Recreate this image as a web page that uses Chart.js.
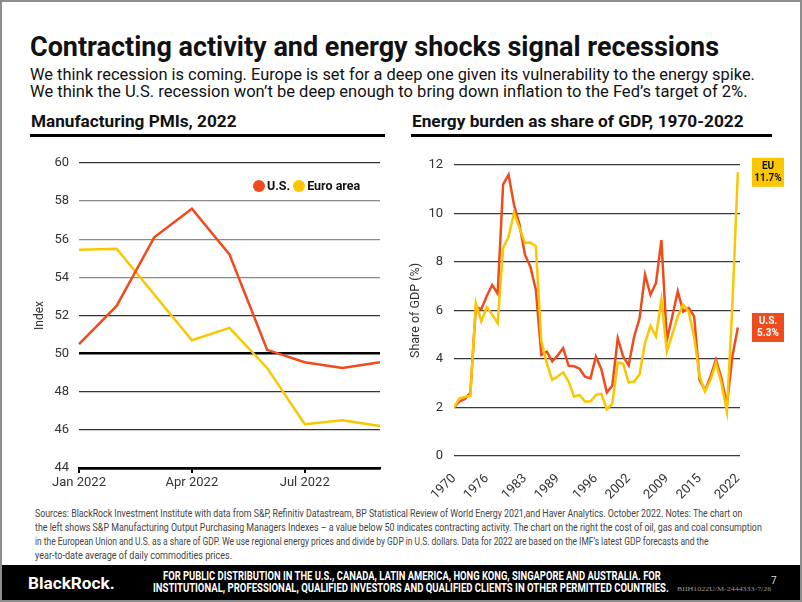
<!DOCTYPE html>
<html>
<head>
<meta charset="utf-8">
<script src="https://cdn.jsdelivr.net/npm/chart.js@4.4.1/dist/chart.umd.min.js"></script>
<style>
  html, body { margin: 0; padding: 0; background: #fff; }
  #page { position: relative; width: 802px; height: 602px; overflow: hidden; font-family: Roboto, 'Liberation Sans', sans-serif; color: #111; }
  #frame { position: absolute; left: 0; top: 0; width: 802px; height: 602px; box-sizing: border-box; border: 2px solid #8d8d8d; z-index: 5; pointer-events: none; }
  .fit { position: absolute; white-space: nowrap; line-height: 1; transform-origin: 0 50%; }
  .rule { position: absolute; height: 3px; background: #000; }
  canvas { position: absolute; }
  #pmiLegend { position: absolute; left: 253px; top: 178px; font: bold 12.5px Roboto, sans-serif; white-space: nowrap; }
  #pmiLegend .dot { display: inline-block; width: 12px; height: 12px; border-radius: 50%; vertical-align: -2px; margin-right: 2px; }
  #pmiLegend .item { margin-right: 3px; }
  #footer { position: absolute; left: 0; top: 565px; width: 802px; height: 37px; background: #000; }
</style>
</head>
<body>
<div id="page">
  <div class="fit" id="title" style="left:30px;top:34px;font-size:27px;font-weight:bold;">Contracting activity and energy shocks signal recessions</div>
  <div class="fit" id="sub1" style="left:30px;top:66.5px;font-size:16.5px;">We think recession is coming. Europe is set for a deep one given its vulnerability to the energy spike.</div>
  <div class="fit" id="sub2" style="left:30px;top:84px;font-size:16.5px;">We think the U.S. recession won’t be deep enough to bring down inflation to the Fed’s target of 2%.</div>

  <div class="fit" id="head1" style="left:31px;top:113.5px;font-size:16px;font-weight:bold;">Manufacturing PMIs, 2022</div>
  <div class="fit" id="head2" style="left:412px;top:113.5px;font-size:16px;font-weight:bold;">Energy burden as share of GDP, 1970-2022</div>
  <div class="rule" style="left:30px;top:134px;width:355px;"></div>
  <div class="rule" style="left:411px;top:134px;width:361px;"></div>

  <canvas id="pmiChart" width="380" height="360" style="left:20px;top:140px;"></canvas>
  <div id="pmiLegend"></div>
  <canvas id="energyChart" width="400" height="360" style="left:400px;top:140px;"></canvas>

  <div class="fit" id="src1" style="left:35px;top:507.5px;font-size:11px;color:#444;">Sources: BlackRock Investment Institute with data from S&amp;P, Refinitiv Datastream, BP Statistical Review of World Energy 2021,and Haver Analytics. October 2022. Notes: The chart on</div>
  <div class="fit" id="src2" style="left:35px;top:521.5px;font-size:11px;color:#444;">the left shows S&amp;P Manufacturing Output Purchasing Managers Indexes – a value below 50 indicates contracting activity. The chart on the right the cost of oil, gas and coal consumption</div>
  <div class="fit" id="src3" style="left:35px;top:535.5px;font-size:11px;color:#444;">in the European Union and U.S. as a share of GDP. We use regional energy prices and divide by GDP in U.S. dollars. Data for 2022 are based on the IMF’s latest GDP forecasts and the</div>
  <div class="fit" id="src4" style="left:35px;top:549.5px;font-size:11px;color:#444;">year-to-date average of daily commodities prices.</div>

  <div id="footer"></div>
  <div class="fit" id="brand" style="left:28px;top:575.5px;font-size:16px;font-weight:bold;color:#fff;">BlackRock.</div>
  <div class="fit" id="foot1" style="left:163px;top:569.5px;font-size:12.5px;font-weight:bold;color:#fff;">FOR PUBLIC DISTRIBUTION IN THE U.S., CANADA, LATIN AMERICA, HONG KONG, SINGAPORE AND AUSTRALIA. FOR</div>
  <div class="fit" id="foot2" style="left:153px;top:582px;font-size:12.5px;font-weight:bold;color:#fff;">INSTITUTIONAL,  PROFESSIONAL, QUALIFIED INVESTORS AND QUALIFIED CLIENTS IN OTHER PERMITTED COUNTRIES.</div>
  <div class="fit" id="pageNo" style="left:771px;top:576px;font-size:10px;color:#ddd;">7</div>
  <div class="fit" id="code" style="left:677px;top:586px;font-size:7px;color:#999;font-family:'Liberation Serif',serif;">BIIH1022U/M-2444333-7/26</div>
  <div id="frame"></div>
</div>

<script>
// Manufacturing PMIs, 2022 (left chart)
const pmiMonths = ['Jan 2022', 'Feb 2022', 'Mar 2022', 'Apr 2022', 'May 2022', 'Jun 2022', 'Jul 2022', 'Aug 2022', 'Sep 2022'];
const pmiTickMonths = ['Jan 2022', 'Apr 2022', 'Jul 2022'];
const pmiUS = [50.5, 52.5, 56.1, 57.6, 55.2, 50.2, 49.55, 49.25, 49.55];
const pmiEuro = [55.45, 55.5, 53.1, 50.7, 51.35, 49.25, 46.3, 46.5, 46.2];
const pmiSeriesNames = ['U.S.', 'Euro area'];

// Energy burden as share of GDP, 1970-2022 (right chart)
const energyYears = [
  1970, 1971, 1972, 1973, 1974, 1975, 1976, 1977, 1978, 1979,
  1980, 1981, 1982, 1983, 1984, 1985, 1986, 1987, 1988, 1989,
  1990, 1991, 1992, 1993, 1994, 1995, 1996, 1997, 1998, 1999,
  2000, 2001, 2002, 2003, 2004, 2005, 2006, 2007, 2008, 2009,
  2010, 2011, 2012, 2013, 2014, 2015, 2016, 2017, 2018, 2019,
  2020, 2021, 2022
];
const energyUS = [
  2.0, 2.25, 2.35, 2.6, 6.15, 6.05, 6.6, 7.05, 6.7, 11.2,
  11.6, 10.35, 9.55, 8.3, 7.8, 6.85, 4.17, 4.3, 3.9, 4.15,
  4.45, 3.72, 3.7, 3.6, 3.27, 3.2, 4.1, 3.58, 2.62, 2.9,
  4.86, 4.1, 3.74, 4.92, 5.68, 7.48, 6.65, 7.13, 8.9, 4.79,
  5.76, 6.79, 5.96, 6.1, 5.76, 3.14, 2.7, 3.28, 3.97, 3.2,
  2.1, 4.1, 5.3
];
const energyEU = [
  2.0, 2.38, 2.43, 2.48, 6.31, 5.55, 6.13, 5.83, 5.48, 8.58,
  9.04, 10.03, 9.41, 8.79, 8.8, 8.65, 4.73, 3.83, 3.14, 3.28,
  3.45, 3.07, 2.45, 2.52, 2.25, 2.25, 2.52, 2.56, 1.93, 2.15,
  3.86, 3.8, 3.03, 3.07, 3.37, 4.66, 5.37, 4.93, 6.45, 4.31,
  5.0, 5.76, 6.24, 5.96, 4.9, 3.28, 2.66, 3.14, 3.83, 3.0,
  1.83, 6.2, 11.7
];
const energyTickYears = [1970, 1976, 1983, 1989, 1996, 2002, 2009, 2015, 2022];
const energySeriesNames = ['EU', 'U.S.'];

const RED = '#F04B1C';
const YELLOW = '#FAC600';
const tickFont = { family: 'Roboto', size: 13 };

// legend for the PMI chart
document.getElementById('pmiLegend').innerHTML = pmiSeriesNames
  .map((name, i) =>
    '<span class="item"><span class="dot" style="background:' + (i === 0 ? RED : YELLOW) + '"></span>' + name + '</span>')
  .join('');

new Chart(document.getElementById('pmiChart'), {
  type: 'line',
  data: {
    labels: pmiMonths,
    datasets: [
      { label: pmiSeriesNames[0], data: pmiUS, borderColor: RED, borderWidth: 2.5, pointRadius: 0, tension: 0 },
      { label: pmiSeriesNames[1], data: pmiEuro, borderColor: YELLOW, borderWidth: 2.5, pointRadius: 0, tension: 0 },
    ],
  },
  options: {
    responsive: false,
    animation: false,
    layout: { padding: { top: 23, right: 20, left: 0, bottom: 0 } },
    plugins: { legend: { display: false }, tooltip: { enabled: false } },
    scales: {
      x: {
        offset: false,
        grid: {
          display: true,
          drawOnChartArea: false,
          drawTicks: true,
          tickLength: 5,
          lineWidth: 2,
          color: (c) => (pmiTickMonths.includes(pmiMonths[c.index]) ? '#000' : 'rgba(0,0,0,0)'),
        },
        border: { display: true, color: '#000', width: 2.5 },
        ticks: {
          autoSkip: false,
          maxRotation: 0,
          padding: 2,
          color: '#333',
          font: tickFont,
          callback: (v, i) => (pmiTickMonths.includes(pmiMonths[i]) ? pmiMonths[i] : ''),
        },
        afterFit: (s) => { s.height = 32; },
      },
      y: {
        min: 44,
        max: 60,
        border: { display: false },
        grid: {
          drawTicks: false,
          color: (c) => {
            const v = c.tick.value;
            if (v === 50 || v === 44) return '#000';
            if (v >= 54 && v <= 58) return '#8a8a8a';
            return '#333';
          },
          lineWidth: (c) => (c.tick.value === 50 || c.tick.value === 44 ? 2.5 : 1.3),
        },
        ticks: { stepSize: 2, padding: 10, color: '#333', font: tickFont },
        title: { display: true, text: 'Index', color: '#333', font: { family: 'Roboto', size: 12 }, padding: { top: 13, bottom: 0 } },
        afterFit: (s) => { s.width = 59; },
      },
    },
  },
});

// boxes with the latest value, right of the energy chart
const endLabels = {
  id: 'endLabels',
  afterDatasetsDraw(chart) {
    const ctx = chart.ctx;
    const yScale = chart.scales.y;
    const left = chart.chartArea.right + 12;
    chart.data.datasets.forEach((ds) => {
      const last = ds.data[ds.data.length - 1];
      const yc = yScale.getPixelForValue(last);
      ctx.save();
      ctx.fillStyle = ds.borderColor;
      ctx.fillRect(left, yc - 14.5, 32, 29);
      ctx.fillStyle = ds.boxText;
      ctx.font = 'bold 10px Roboto';
      ctx.textAlign = 'center';
      ctx.textBaseline = 'middle';
      ctx.fillText(ds.label, left + 16, yc - 6);
      ctx.fillText(last.toFixed(1) + '%', left + 16, yc + 6);
      ctx.restore();
    });
  },
};

new Chart(document.getElementById('energyChart'), {
  type: 'line',
  data: {
    labels: energyYears,
    datasets: [
      { label: energySeriesNames[0], data: energyEU, borderColor: YELLOW, boxText: '#111', borderWidth: 2.5, pointRadius: 0, tension: 0 },
      { label: energySeriesNames[1], data: energyUS, borderColor: RED, boxText: '#fff', borderWidth: 2.5, pointRadius: 0, tension: 0 },
    ],
  },
  options: {
    responsive: false,
    animation: false,
    layout: { padding: { top: 25, right: 60, left: 0, bottom: 0 } },
    plugins: { legend: { display: false }, tooltip: { enabled: false } },
    scales: {
      x: {
        type: 'linear',
        min: 1970,
        max: 2022.4,
        grid: { display: false },
        border: { display: false },
        afterBuildTicks: (s) => { s.ticks = energyTickYears.map((v) => ({ value: v })); },
        ticks: {
          autoSkip: false,
          minRotation: 45,
          maxRotation: 45,
          padding: 7,
          color: '#333',
          font: tickFont,
          callback: (v) => String(v),
        },
        afterFit: (s) => { s.height = 44; },
      },
      y: {
        min: 0,
        max: 12,
        border: { display: false },
        grid: { drawTicks: false, color: '#3a3a3a', lineWidth: 1.3 },
        ticks: { stepSize: 2, padding: 11, color: '#333', font: tickFont },
        title: { display: true, text: 'Share of GDP (%)', color: '#333', font: { family: 'Roboto', size: 12.5 }, padding: { top: 8, bottom: 0 } },
        afterFit: (s) => { s.width = 54; },
      },
    },
  },
  plugins: [endLabels],
});

// squeeze the text lines to the widths they take in the slide
const textWidths = [
  ['title', 689], ['sub1', 725], ['sub2', 718], ['head1', 206], ['head2', 332],
  ['src1', 707], ['src2', 727], ['src3', 673], ['src4', 197],
  ['brand', 87], ['foot1', 498], ['foot2', 516], ['code', 94],
];
textWidths.forEach(([id, w]) => {
  const el = document.getElementById(id);
  el.style.transform = 'scaleX(' + w / el.scrollWidth + ')';
});
</script>
</body>
</html>
